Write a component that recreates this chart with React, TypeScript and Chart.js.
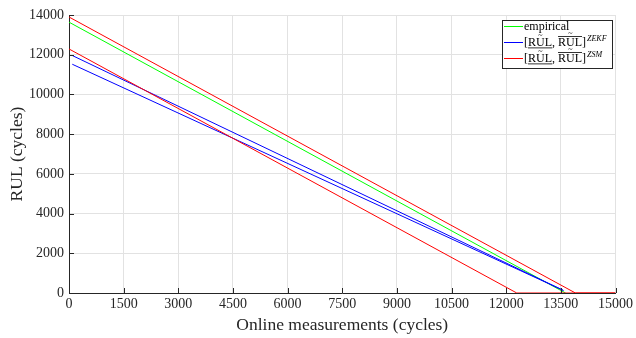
import React, { useEffect, useRef } from 'react';
import { Chart, registerables } from 'chart.js';

Chart.register(...registerables);

// ---- Data ----
const X_TICKS = [0, 1500, 3000, 4500, 6000, 7500, 9000, 10500, 12000, 13500, 15000];
const Y_TICKS = [0, 2000, 4000, 6000, 8000, 10000, 12000, 14000];

const empiricalX = [0, 13630];
const empiricalY = [13640, 0];

const zekfUpperX = [90, 13570];
const zekfUpperY = [11960, 130];
const zekfLowerX = [90, 13570];
const zekfLowerY = [11520, 130];

const zsmUpperX = [0, 13900, 15000];
const zsmUpperY = [13900, 0, 0];
const zsmLowerX = [0, 12290, 15000];
const zsmLowerY = [12290, 0, 0];

const SERIF = '"Liberation Serif", "Times New Roman", serif';
const AXIS_COLOR = '#262626';
const GRID_COLOR = '#e2e2e2';

const pts = (xs: number[], ys: number[]) => xs.map((x, i) => ({ x, y: ys[i] }));

const tickMarksPlugin = {
  id: 'inwardTicks',
  afterDatasetsDraw(chart: any) {
    const { ctx, chartArea, scales } = chart;
    ctx.save();
    ctx.strokeStyle = AXIS_COLOR;
    ctx.lineWidth = 1;
    ctx.beginPath();
    X_TICKS.forEach((v) => {
      const px = Math.round(scales.x.getPixelForValue(v)) + 0.5;
      ctx.moveTo(px, chartArea.bottom);
      ctx.lineTo(px, chartArea.bottom - 5);
    });
    Y_TICKS.forEach((v) => {
      const py = Math.round(scales.y.getPixelForValue(v)) + 0.5;
      ctx.moveTo(chartArea.left, py);
      ctx.lineTo(chartArea.left + 5, py);
    });
    ctx.stroke();
    ctx.restore();
  },
};

function drawRUL(ctx: CanvasRenderingContext2D, x: number, y: number, accentY: number) {
  ctx.font = `12px ${SERIF}`;
  const wR = ctx.measureText('R').width;
  const wU = ctx.measureText('U').width;
  ctx.fillText('RUL', x, y);
  const total = ctx.measureText('RUL').width;
  ctx.save();
  ctx.font = `8px ${SERIF}`;
  ctx.textAlign = 'center';
  ctx.fillText('~', x + wR + wU / 2, accentY);
  ctx.restore();
  return total;
}

function drawMathLabel(ctx: CanvasRenderingContext2D, x: number, y: number, sup: string) {
  ctx.font = `12px ${SERIF}`;
  ctx.textBaseline = 'middle';
  ctx.textAlign = 'left';
  let cx = x;
  const put = (s: string) => {
    ctx.font = `12px ${SERIF}`;
    ctx.fillText(s, cx, y);
    cx += ctx.measureText(s).width;
  };
  put('[');
  const s1 = cx;
  cx += drawRUL(ctx, cx, y, y - 6.5);
  const e1 = cx;
  ctx.fillRect(s1, y + 5, e1 - s1, 0.8);
  put(', ');
  const s2 = cx;
  cx += drawRUL(ctx, cx, y, y - 8.5);
  const e2 = cx;
  ctx.fillRect(s2, y - 6.5, e2 - s2, 0.8);
  put(']');
  ctx.font = `italic 8px ${SERIF}`;
  ctx.fillText(sup, cx + 1, y - 4);
}

const legendPlugin = {
  id: 'boxLegend',
  afterDraw(chart: any) {
    const ctx: CanvasRenderingContext2D = chart.ctx;
    ctx.save();
    const bx = 502.5, by = 20.5, bw = 110, bh = 48;
    ctx.fillStyle = '#ffffff';
    ctx.fillRect(bx, by, bw, bh);
    ctx.strokeStyle = AXIS_COLOR;
    ctx.lineWidth = 1;
    ctx.strokeRect(bx, by, bw, bh);

    const rows = [
      { color: '#00ff00', y: 26.5, kind: 'text', label: 'empirical' },
      { color: '#0000ff', y: 42.5, kind: 'math', label: 'ZEKF' },
      { color: '#ff0000', y: 58.5, kind: 'math', label: 'ZSM' },
    ];
    rows.forEach((r) => {
      ctx.strokeStyle = r.color;
      ctx.lineWidth = 1;
      ctx.beginPath();
      ctx.moveTo(504, r.y);
      ctx.lineTo(523, r.y);
      ctx.stroke();
      ctx.fillStyle = '#000000';
      if (r.kind === 'text') {
        ctx.font = `12px ${SERIF}`;
        ctx.textBaseline = 'middle';
        ctx.textAlign = 'left';
        ctx.fillText(r.label, 524, r.y);
      } else {
        drawMathLabel(ctx, 524, r.y, r.label);
      }
    });
    ctx.restore();
  },
};

export default function App() {
  const canvasRef = useRef<HTMLCanvasElement | null>(null);

  useEffect(() => {
    if (!canvasRef.current) return;
    const tickFont = { family: SERIF, size: 14 };
    const titleFont = { family: SERIF, size: 17.5 };
    const chart = new Chart(canvasRef.current, {
      type: 'line',
      data: {
        datasets: [
          { label: 'ZSM upper', data: pts(zsmUpperX, zsmUpperY), borderColor: '#ff0000', order: 0 },
          { label: 'ZSM lower', data: pts(zsmLowerX, zsmLowerY), borderColor: '#ff0000', order: 0 },
          { label: 'ZEKF upper', data: pts(zekfUpperX, zekfUpperY), borderColor: '#0000ff', order: 1 },
          { label: 'ZEKF lower', data: pts(zekfLowerX, zekfLowerY), borderColor: '#0000ff', order: 1 },
          { label: 'empirical', data: pts(empiricalX, empiricalY), borderColor: '#00ff00', order: 2 },
        ],
      },
      options: {
        animation: false,
        responsive: false,
        devicePixelRatio: 1,
        layout: { padding: { left: 0, right: 19, top: 15, bottom: 0 } },
        elements: {
          point: { radius: 0, hoverRadius: 0 },
          line: { borderWidth: 1, tension: 0, fill: false },
        },
        plugins: {
          legend: { display: false },
          tooltip: { enabled: false },
        },
        scales: {
          x: {
            type: 'linear',
            min: 0,
            max: 15000,
            afterBuildTicks: (s: any) => {
              s.ticks = X_TICKS.map((v) => ({ value: v }));
            },
            afterFit: (s: any) => {
              s.height = 45;
            },
            ticks: {
              font: tickFont,
              color: AXIS_COLOR,
              padding: 3,
              maxRotation: 0,
              autoSkip: false,
              callback: (v: any) => String(v),
            },
            grid: { color: GRID_COLOR, drawTicks: false, lineWidth: 1 },
            border: { display: true, color: AXIS_COLOR, width: 1 },
            title: {
              display: true,
              text: 'Online measurements (cycles)',
              font: titleFont,
              color: AXIS_COLOR,
              padding: { top: 0, bottom: 2.5 },
            },
          },
          y: {
            type: 'linear',
            min: 0,
            max: 14000,
            afterBuildTicks: (s: any) => {
              s.ticks = Y_TICKS.map((v) => ({ value: v }));
            },
            afterFit: (s: any) => {
              s.width = 69;
            },
            ticks: {
              font: tickFont,
              color: AXIS_COLOR,
              padding: 5,
              autoSkip: false,
              callback: (v: any) => String(v),
            },
            grid: { color: GRID_COLOR, drawTicks: false, lineWidth: 1 },
            border: { display: true, color: AXIS_COLOR, width: 1 },
            title: {
              display: true,
              text: 'RUL (cycles)',
              font: titleFont,
              color: AXIS_COLOR,
              padding: { top: 6.5, bottom: 0 },
            },
          },
        },
      },
      plugins: [tickMarksPlugin, legendPlugin],
    } as any);
    return () => chart.destroy();
  }, []);

  return (
    <div style={{ position: 'fixed', left: 0, top: 0, width: 636, height: 338, background: '#fff' }}>
      <canvas ref={canvasRef} width={636} height={338} style={{ display: 'block', width: 636, height: 338 }} />
    </div>
  );
}
